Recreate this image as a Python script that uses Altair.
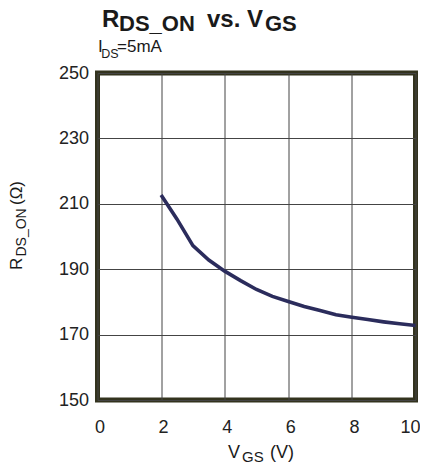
import altair as alt
import pandas as pd

vgs = [2, 2.5, 3, 3.5, 4, 4.5, 5, 5.5, 6, 6.5, 7, 7.5, 8, 8.5, 9, 9.5, 10]
rds_on = [212.7, 205.3, 197.2, 192.8, 189.4, 186.5, 183.8, 181.7, 180.1, 178.6,
          177.4, 176.1, 175.3, 174.6, 173.9, 173.3, 172.8]
x_ticks = [0, 2, 4, 6, 8, 10]
y_ticks = [150, 170, 190, 210, 230, 250]

df = pd.DataFrame({"vgs": vgs, "rds": rds_on})

FONT = "Liberation Sans"

line = alt.Chart(df).mark_line(color="#2b2c5c", strokeWidth=3.6).encode(
    x=alt.X("vgs:Q", scale=alt.Scale(domain=[0, 10], nice=False),
            axis=alt.Axis(values=x_ticks, title=None, ticks=False, domain=False,
                          grid=True, labelPadding=18, labelFontSize=18,
                          labelFlush=False,
                          labelAlign={"condition": {"test": "datum.value == 10", "value": "right"}, "value": "center"},
                          labelOffset={"condition": {"test": "datum.value == 10", "value": 4.5}, "value": 2},
                          labelColor="#222222", labelFont=FONT,
                          gridColor="#444444", gridWidth=1)),
    y=alt.Y("rds:Q", scale=alt.Scale(domain=[150, 250], nice=False),
            axis=alt.Axis(values=y_ticks, title=None, ticks=False, domain=False,
                          grid=True, labelPadding=9, labelFontSize=18,
                          labelFlush=False,
                          labelColor="#222222", labelFont=FONT,
                          gridColor="#444444", gridWidth=1)),
)

def txt(text, x, y, size, bold=False, angle=0):
    kw = dict(align="left", baseline="alphabetic", fontSize=size, font=FONT,
              color="#1a1a1a", fontWeight="bold" if bold else "normal")
    if angle:
        kw["angle"] = angle
    return alt.Chart(pd.DataFrame({"t": [text]})).mark_text(**kw).encode(
        text="t:N", x=alt.value(x), y=alt.value(y))

layers = [
    line,
    # title
    txt("R", 4.5, -46, 24, True),
    txt("DS_ON", 21.5, -42, 22, True),
    txt("vs. V", 109.5, -46, 24, True),
    txt("GS", 167.5, -42, 22, True),
    # subtitle
    txt("I", 0.5, -20.7, 17),
    txt("DS", 3.8, -15.5, 12.5),
    txt("=5mA", 19.5, -20.7, 17),
    # x axis title
    txt("V", 130.5, 385, 18),
    txt("GS", 144.5, 389, 15),
    txt("(V)", 172.5, 385, 18),
    # y axis title (rotated)
    txt("R", -75.5, 197, 17, angle=270),
    txt("DS_ON", -71.5, 183.5, 14, angle=270),
    txt("(Ω)", -75.5, 132, 17, angle=270),
]

chart = alt.layer(*layers).properties(
    width=318, height=327,
    autosize=alt.AutoSizeParams(type="none"),
    padding={"left": 89.5, "top": 65, "right": 4.5, "bottom": 62},
).configure_view(stroke="#33331e", strokeWidth=5)

chart.save("out.html", embed_options={"renderer": "svg", "actions": False})
